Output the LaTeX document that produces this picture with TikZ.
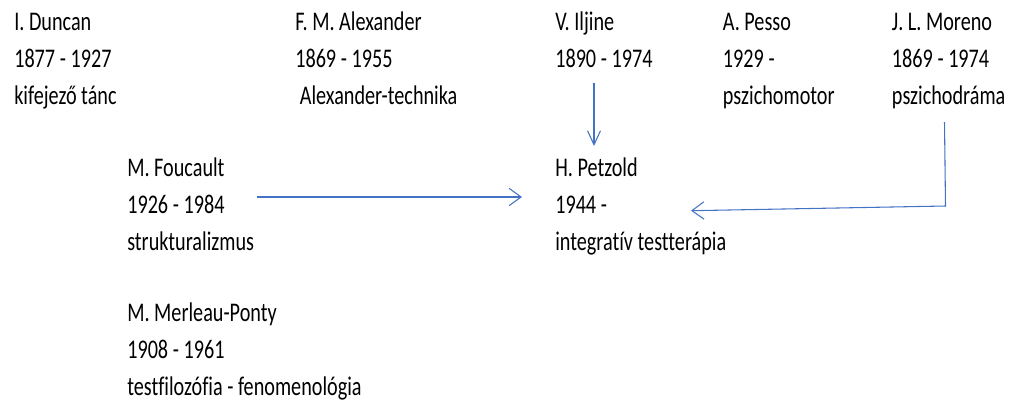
\documentclass[tikz,border=0pt]{standalone}
\usepackage{fontspec}
\setmainfont{Carlito}[FakeStretch=0.75,Ligatures=NoCommon]
\usetikzlibrary{arrows.meta,calc}
\definecolor{linkblue}{RGB}{68,114,196}

\begin{document}
\begin{tikzpicture}[x=0.75pt,y=-0.75pt,
    person/.style={align=left,anchor=base west,inner sep=0pt,
        font=\fontsize{20.2}{27.6}\selectfont},
    link/.style={draw=linkblue,line width=0.8pt},
    down_link/.style={link,-{Straight Barb[length=10.5pt,width=9.75pt]}},
    side_link/.style={link,-{Straight Barb[length=9pt,width=13pt]}}]

    \useasboundingbox (0,0) rectangle (1010,401);

    % top row (positions at the last baseline)
    \node[person] (duncan) at (14,104.3) {I. Duncan\\1877 - 1927\\kifejező tánc};
    \node[person] (alexander) at (295,104.3) {F. M. Alexander\\1869 - 1955\\\mbox{}\ Alexander-technika};
    \node[person] (iljine) at (555,67.5) {V. Iljine\\1890 - 1974};
    \node[person] (pesso) at (722.7,104.3) {A. Pesso\\1929 -\\pszichomotor};
    \node[person] (moreno) at (891.7,104.3) {J. L. Moreno\\1869 - 1974\\pszichodráma};

    % middle and bottom
    \node[person] (foucault) at (127,250.1) {M. Foucault\\1926 - 1984\\strukturalizmus};
    \node[person] (petzold) at (555,250.3) {H. Petzold\\1944 -\\integratív testterápia};
    \node[person] (merleau) at (127,395) {M. Merleau-Ponty\\1908 - 1961\\testfilozófia - fenomenológia};

    \draw[down_link] ($(iljine.base west)+(39,15.5)$) -- ($(petzold.base west)+(39,-104.3)$);
    \draw[side_link] ($(foucault.base west)+(130,-53.1)$) -- ($(petzold.base west)+(-33,-53.3)$);
    \draw[side_link] ($(moreno.base west)+(52.8,17.7)$) -- ($(moreno.base west)+(53.8,101.7)$)
        -- ($(petzold.base west)+(136,-39.6)$);
\end{tikzpicture}
\end{document}
